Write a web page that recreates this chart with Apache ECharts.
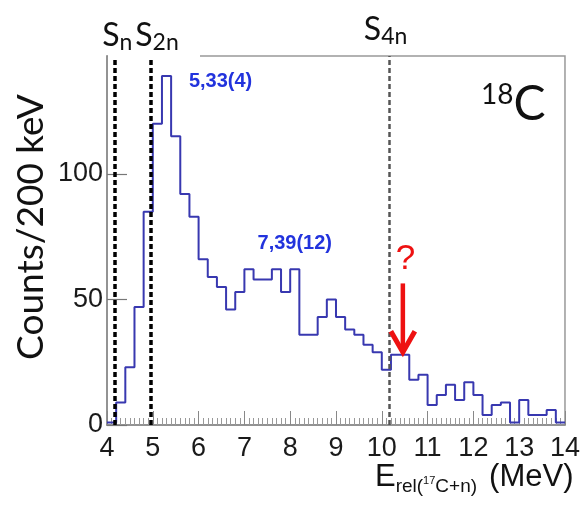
<!DOCTYPE html>
<html><head><meta charset="utf-8">
<script src="https://cdn.jsdelivr.net/npm/echarts@6/dist/echarts.min.js"></script>
<style>html,body{margin:0;padding:0;background:#fff}#c{width:583px;height:512px}</style>
</head><body><div id="c"></div>
<script>
// bin edges (MeV), 200 keV bins
const binEdges = [4.0,4.2,4.4,4.6,4.8,5.0,5.2,5.4,5.6,5.8,
                  6.0,6.2,6.4,6.6,6.8,7.0,7.2,7.4,7.6,7.8,
                  8.0,8.2,8.4,8.6,8.8,9.0,9.2,9.4,9.6,9.8,
                  10.0,10.2,10.4,10.6,10.8,11.0,11.2,11.4,11.6,11.8,
                  12.0,12.2,12.4,12.6,12.8,13.0,13.2,13.4,13.6,13.8,14.0];
// counts per bin
const counts = [1, 9, 23, 47, 85, 120, 139, 115, 92, 83,
                66, 59, 55, 46, 53, 62, 58, 58, 62, 53,
                62, 36, 36, 43, 50, 43, 38, 36, 32, 29,
                22, 28, 28, 18, 20, 8, 12, 16, 10, 17,
                12, 4, 8, 9, 1, 10, 4, 4, 6, 1];
const xTickLabels = [4,5,6,7,8,9,10,11,12,13,14];
const yTickLabels = [0,50,100];
// separation thresholds
const thresholdE = [4.18, 4.96, 10.17];
const thresholdSub = ['n', '2n', '4n'];
// resonance annotations
const peakText = ['5,33(4)', '7,39(12)'];
const peakAt = [[6.48, 137], [8.1, 72.5]];
// questioned peak arrow: [E, from, to]
const arrowData = [[10.46, 56.4, 28.6]];

const histData = binEdges.map((e, i) => [e, counts[Math.min(i, counts.length - 1)]]);

const chart = echarts.init(document.getElementById('c'), null, {renderer: 'canvas'});
const sans = 'Liberation Sans';
const sRich = {
  s: {fontFamily: 'Lato', fontSize: 32, lineHeight: 34, padding: [0,0,6,0], verticalAlign: 'top', color: '#111'},
  sub: {fontFamily: 'Lato', fontSize: 23, lineHeight: 22, verticalAlign: 'bottom', color: '#111'}
};
const thrStyles = [
  {color: '#000', width: 3.5, type: [5, 3]},
  {color: '#000', width: 3.5, type: [5, 3]},
  {color: '#555', width: 2.5, type: [5, 3]}
];
const thrOffsets = [[2, 0], [6, 0], [-4, -6]];

chart.setOption({
  animation: false,
  backgroundColor: '#fff',
  grid: {left: 107, right: 6, top: 56, bottom: 87, show: true, borderColor: '#999', borderWidth: 1.5, backgroundColor: 'transparent'},
  xAxis: {
    type: 'value', min: xTickLabels[0], max: xTickLabels[xTickLabels.length - 1], interval: 1,
    axisLine: {show: true, onZero: false, lineStyle: {color: '#888', width: 1.5}},
    axisTick: {show: true, inside: true, length: 14, lineStyle: {color: '#888', width: 1}},
    minorTick: {show: true, splitNumber: 10, length: 7, lineStyle: {color: '#999', width: 1}},
    axisLabel: {fontFamily: sans, fontSize: 27, color: '#1a1a1a', margin: 10,
      formatter: v => xTickLabels.indexOf(v) >= 0 ? String(v) : ''},
    splitLine: {show: false}, minorSplitLine: {show: false}
  },
  yAxis: {
    type: 'value', min: 0, max: 147, interval: 50,
    axisLine: {show: true, lineStyle: {color: '#888', width: 1.5}},
    axisTick: {show: true, inside: true, length: 20, lineStyle: {color: '#777', width: 1.2}},
    axisLabel: {fontFamily: sans, fontSize: 27, color: '#1a1a1a', margin: 4, showMaxLabel: false,
      formatter: v => yTickLabels.indexOf(v) >= 0 ? String(v) : ''},
    splitLine: {show: false}
  },
  graphic: [
    {type: 'rect', z: 100, shape: {x: 108, y: 52, width: 92, height: 6}, style: {fill: '#fff'}},
    {type: 'text', x: 31, y: 227, rotation: Math.PI / 2,
      style: {text: 'Counts/200 keV', font: '37px Lato', fill: '#111', align: 'center', verticalAlign: 'middle'}},
    {type: 'text', x: 481, y: 81,
      style: {text: '{sup|18}{c|C}', align: 'left', verticalAlign: 'top',
        rich: {sup: {fontFamily: 'Lato', fontSize: 28, lineHeight: 28, verticalAlign: 'top', fill: '#111'},
               c: {fontFamily: 'Lato', fontSize: 48, lineHeight: 48, verticalAlign: 'bottom', fill: '#111'}}}},
    {type: 'text', x: 375, y: 462,
      style: {text: '{e|E}{sb|rel(}{sp|17}{sb|C+n)}{gap| }{e|(MeV)}', align: 'left', verticalAlign: 'top',
        rich: {
          e: {fontFamily: sans, fontSize: 31, lineHeight: 34, padding: [0,0,11,0], verticalAlign: 'top', fill: '#111'},
          sb: {fontFamily: sans, fontSize: 19, lineHeight: 22, verticalAlign: 'bottom', fill: '#111'},
          sp: {fontFamily: sans, fontSize: 11, lineHeight: 12, padding: [0,0,10,0], verticalAlign: 'bottom', fill: '#111'},
          gap: {fontFamily: sans, fontSize: 31, lineHeight: 34, width: 12, verticalAlign: 'top'}
        }}}
  ],
  series: [
    {
      type: 'line', data: histData, step: 'end', symbol: 'none', z: 3,
      lineStyle: {color: '#3838b0', width: 2},
      markLine: {
        silent: true, symbol: ['none', 'none'], animation: false,
        data: thresholdE.map((e, i) => ({
          xAxis: e,
          lineStyle: thrStyles[i],
          label: {show: true, position: 'end', distance: 2, offset: thrOffsets[i],
            formatter: '{s|S}{sub|' + thresholdSub[i] + '}', rich: sRich}
        }))
      },
      markPoint: {
        silent: true, symbol: 'circle', symbolSize: 1, itemStyle: {color: 'rgba(0,0,0,0)'},
        data: peakText.map((t, i) => ({
          coord: peakAt[i],
          label: {show: true, position: 'inside', formatter: t, color: '#2233dd',
            fontFamily: sans, fontWeight: 'bold', fontSize: 20}
        })).concat([{
          coord: [10.52, 66],
          label: {show: true, position: 'inside', formatter: '?', color: '#ee1111',
            fontFamily: sans, fontSize: 35}
        }])
      }
    },
    {
      type: 'custom', data: arrowData, z: 5,
      encode: {x: 0, y: [1, 2]},
      renderItem: (params, api) => {
        const top = api.coord([api.value(0), api.value(1)]);
        const tip = api.coord([api.value(0), api.value(2)]);
        return {type: 'group', children: [
          {type: 'line', shape: {x1: top[0], y1: top[1], x2: tip[0], y2: tip[1] - 3},
            style: {stroke: '#ee1111', lineWidth: 4.5}},
          {type: 'polyline', shape: {points: [[tip[0] - 12, tip[1] - 22], [tip[0], tip[1] - 1], [tip[0] + 12, tip[1] - 22]]},
            style: {stroke: '#ee1111', lineWidth: 5, fill: null, lineJoin: 'miter'}}
        ]};
      }
    }
  ]
});
</script>
</body></html>
